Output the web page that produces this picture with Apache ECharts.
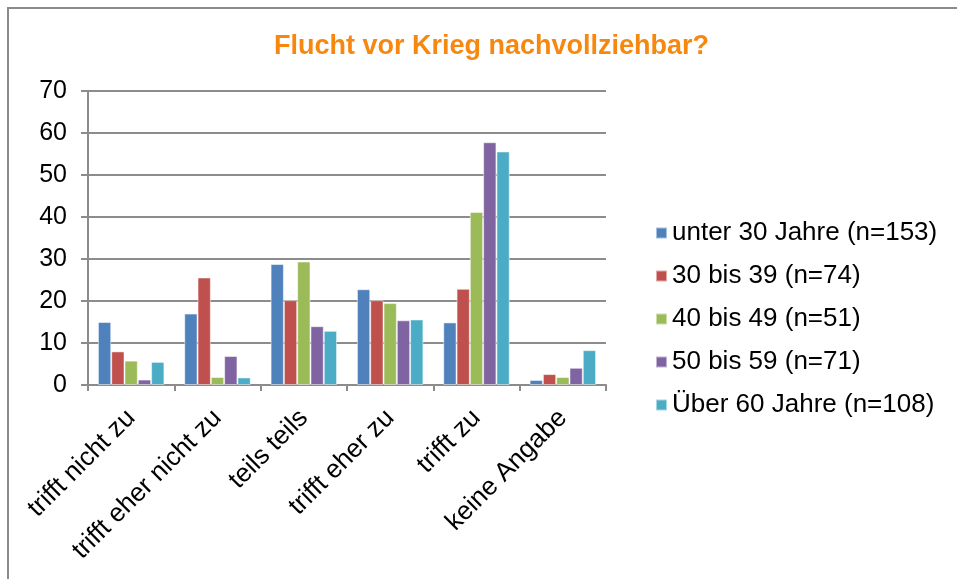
<!DOCTYPE html>
<html>
<head>
<meta charset="utf-8">
<script src="https://cdn.jsdelivr.net/npm/echarts@6/dist/echarts.min.js"></script>
<style>
  html, body { margin: 0; padding: 0; background: #fff; }
  #main { width: 957px; height: 579px; }
</style>
</head>
<body>
<div id="main"></div>
<script>
// Antwortkategorien
var categories = ['trifft nicht zu', 'trifft eher nicht zu', 'teils teils', 'trifft eher zu', 'trifft zu', 'keine Angabe'];

// Altersgruppen (Prozent)
var unter30 = [15.0, 17.0, 28.8, 22.8, 14.9, 1.2];
var von30bis39 = [8.0, 25.6, 20.2, 20.2, 22.9, 2.6];
var von40bis49 = [5.8, 1.9, 29.4, 19.5, 41.2, 1.9];
var von50bis59 = [1.3, 6.9, 14.0, 15.4, 57.8, 4.1];
var ueber60 = [5.5, 1.8, 12.9, 15.6, 55.6, 8.3];

var seriesNames = ['unter 30 Jahre (n=153)', '30 bis 39 (n=74)', '40 bis 49 (n=51)', '50 bis 59 (n=71)', 'Über 60 Jahre (n=108)'];
var seriesData = [unter30, von30bis39, von40bis49, von50bis59, ueber60];

var myChart = echarts.init(document.getElementById('main'));

var font = 'Liberation Sans, Arial, sans-serif';

var option = {
    backgroundColor: '#ffffff',
    color: ['#4F81BD', '#C0504D', '#9BBB59', '#8064A2', '#4BACC6'],
    animation: false,
    title: {
        text: 'Flucht vor Krieg nachvollziehbar?',
        left: 269,
        top: 28,
        textStyle: {
            color: '#F7880F',
            fontFamily: font,
            fontWeight: 'bold',
            fontSize: 27
        }
    },
    legend: {
        orient: 'vertical',
        left: 650,
        top: 215,
        itemWidth: 11,
        itemHeight: 11,
        itemGap: 17,
        itemTextGap: 7,
        icon: 'rect',
        data: seriesNames,
        textStyle: {
            color: '#000',
            fontFamily: font,
            fontSize: 26
        }
    },
    graphic: [{
        type: 'rect',
        shape: { x: 8, y: 8, width: 1000, height: 1000 },
        style: { fill: 'none', stroke: '#8a8a8a', lineWidth: 2 },
        silent: true
    }],
    grid: {
        left: 88,
        right: 351,
        top: 91,
        bottom: 194,
        containLabel: false
    },
    xAxis: {
        type: 'category',
        data: categories,
        axisLine: { lineStyle: { color: '#8c8c8c', width: 2 } },
        axisTick: { show: true, length: 6, lineStyle: { color: '#8c8c8c', width: 2 } },
        axisLabel: {
            rotate: 45,
            margin: 29,
            color: '#000',
            fontFamily: font,
            fontSize: 26
        }
    },
    yAxis: {
        type: 'value',
        min: 0,
        max: 70,
        interval: 10,
        axisLine: { show: true, lineStyle: { color: '#8c8c8c', width: 2 } },
        axisTick: { show: true, length: 7, lineStyle: { color: '#8c8c8c', width: 2 } },
        axisLabel: {
            margin: 21,
            color: '#000',
            fontFamily: font,
            fontSize: 25
        },
        splitLine: { lineStyle: { color: '#8c8c8c', width: 2 } }
    },
    series: seriesNames.map(function (name, i) {
        return {
            name: name,
            type: 'bar',
            data: seriesData[i],
            barGap: '0%',
            barCategoryGap: '23%',
            itemStyle: { borderColor: 'rgba(255,255,255,0.5)', borderWidth: 1 }
        };
    })
};

myChart.setOption(option);
</script>
</body>
</html>
